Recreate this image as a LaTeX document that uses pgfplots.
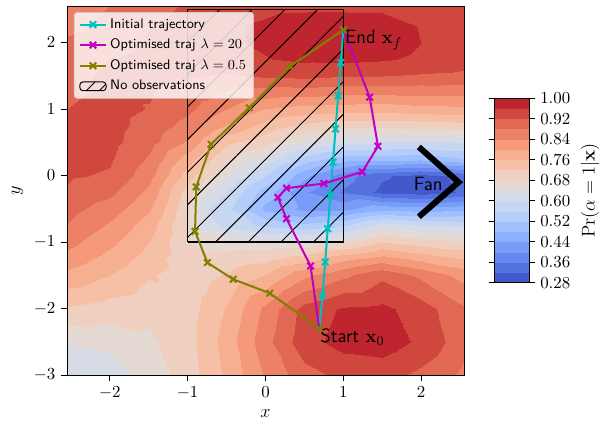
\documentclass[border=0pt]{standalone}
\usepackage{pgfplots}
\pgfplotsset{compat=1.18}
\usepackage{pgfplotstable}
\usetikzlibrary{patterns.meta}

\definecolor{mplc}{rgb}{0,0.75,0.75}
\definecolor{mplm}{rgb}{0.75,0,0.75}
\definecolor{mplolive}{rgb}{0.5,0.5,0}

\pgfplotstableread{
x y z
-2.55 -3 0.595
-2 -3 0.62
-1.5 -3 0.655
-1 -3 0.70
-0.75 -3 0.735
-0.5 -3 0.77
0 -3 0.845
0.5 -3 0.905
1 -3 0.93
1.5 -3 0.935
2 -3 0.91
2.55 -3 0.87
-2.55 -2.5 0.643
-2 -2.5 0.65
-1.5 -2.5 0.672
-1 -2.5 0.705
-0.75 -2.5 0.74
-0.5 -2.5 0.78
0 -2.5 0.865
0.5 -2.5 0.945
1 -2.5 0.975
1.5 -2.5 0.982
2 -2.5 0.952
2.55 -2.5 0.895
-2.55 -2 0.715
-2 -2 0.70
-1.5 -2 0.69
-1 -2 0.705
-0.75 -2 0.73
-0.5 -2 0.765
0 -2 0.85
0.5 -2 0.935
1 -2 0.965
1.5 -2 0.97
2 -2 0.94
2.55 -2 0.885
-2.55 -1.5 0.79
-2 -1.5 0.76
-1.5 -1.5 0.725
-1 -1.5 0.70
-0.75 -1.5 0.71
-0.5 -1.5 0.725
0 -1.5 0.76
0.5 -1.5 0.83
1 -1.5 0.87
1.5 -1.5 0.91
2 -1.5 0.87
2.55 -1.5 0.825
-2.55 -1.25 0.822
-2 -1.25 0.785
-1.5 -1.25 0.742
-1 -1.25 0.69
-0.75 -1.25 0.69
-0.5 -1.25 0.695
0 -1.25 0.71
0.5 -1.25 0.74
1 -1.25 0.79
1.5 -1.25 0.82
2 -1.25 0.79
2.55 -1.25 0.76
-2.55 -1 0.855
-2 -1 0.81
-1.5 -1 0.76
-1 -1 0.68
-0.75 -1 0.665
-0.5 -1 0.66
0 -1 0.65
0.5 -1 0.65
1 -1 0.67
1.5 -1 0.72
2 -1 0.70
2.55 -1 0.685
-2.55 -0.75 0.878
-2 -0.75 0.835
-1.5 -0.75 0.78
-1 -0.75 0.675
-0.75 -0.75 0.615
-0.5 -0.75 0.585
0 -0.75 0.55
0.5 -0.75 0.53
1 -0.75 0.55
1.5 -0.75 0.62
2 -0.75 0.60
2.55 -0.75 0.59
-2.55 -0.5 0.895
-2 -0.5 0.86
-1.5 -0.5 0.805
-1 -0.5 0.685
-0.75 -0.5 0.60
-0.5 -0.5 0.57
0 -0.5 0.47
0.5 -0.5 0.43
1 -0.5 0.43
1.5 -0.5 0.47
2 -0.5 0.46
2.55 -0.5 0.47
-2.55 -0.25 0.915
-2 -0.25 0.89
-1.5 -0.25 0.83
-1 -0.25 0.70
-0.75 -0.25 0.635
-0.5 -0.25 0.60
0 -0.25 0.50
0.5 -0.25 0.405
1 -0.25 0.355
1.5 -0.25 0.31
2 -0.25 0.30
2.55 -0.25 0.325
-2.55 0 0.925
-2 0 0.915
-1.5 0 0.855
-1 0 0.74
-0.75 0 0.685
-0.5 0 0.64
0 0 0.56
0.5 0 0.45
1 0 0.38
1.5 0 0.325
2 0 0.305
2.55 0 0.33
-2.55 0.25 0.935
-2 0.25 0.925
-1.5 0.25 0.875
-1 0.25 0.78
-0.75 0.25 0.73
-0.5 0.25 0.68
0 0.25 0.63
0.5 0.25 0.545
1 0.25 0.50
1.5 0.25 0.50
2 0.25 0.49
2.55 0.25 0.515
-2.55 0.5 0.935
-2 0.5 0.932
-1.5 0.5 0.895
-1 0.5 0.835
-0.75 0.5 0.78
-0.5 0.5 0.73
0 0.5 0.695
0.5 0.5 0.64
1 0.5 0.61
1.5 0.5 0.605
2 0.5 0.60
2.55 0.5 0.605
-2.55 0.75 0.93
-2 0.75 0.934
-1.5 0.75 0.905
-1 0.75 0.865
-0.75 0.75 0.83
-0.5 0.75 0.795
0 0.75 0.745
0.5 0.75 0.71
1 0.75 0.69
1.5 0.75 0.69
2 0.75 0.695
2.55 0.75 0.70
-2.55 1 0.92
-2 1 0.935
-1.5 1 0.918
-1 1 0.89
-0.75 1 0.865
-0.5 1 0.84
0 1 0.80
0.5 1 0.785
1 1 0.78
1.5 1 0.775
2 1 0.785
2.55 1 0.79
-2.55 1.5 0.905
-2 1.5 0.93
-1.5 1.5 0.93
-1 1.5 0.925
-0.75 1.5 0.92
-0.5 1.5 0.915
0 1.5 0.925
0.5 1.5 0.93
1 1.5 0.922
1.5 1.5 0.92
2 1.5 0.915
2.55 1.5 0.91
-2.55 1.75 0.895
-2 1.75 0.92
-1.5 1.75 0.93
-1 1.75 0.935
-0.75 1.75 0.94
-0.5 1.75 0.945
0 1.75 0.958
0.5 1.75 0.968
1 1.75 0.97
1.5 1.75 0.965
2 1.75 0.952
2.55 1.75 0.94
-2.55 2 0.885
-2 2 0.905
-1.5 2 0.925
-1 2 0.94
-0.75 2 0.948
-0.5 2 0.955
0 2 0.966
0.5 2 0.982
1 2 0.987
1.5 2 0.98
2 2 0.96
2.55 2 0.948
-2.55 2.25 0.87
-2 2.25 0.895
-1.5 2.25 0.918
-1 2.25 0.935
-0.75 2.25 0.945
-0.5 2.25 0.954
0 2.25 0.966
0.5 2.25 0.978
1 2.25 0.98
1.5 2.25 0.975
2 2.25 0.958
2.55 2.25 0.945
-2.55 2.55 0.85
-2 2.55 0.88
-1.5 2.55 0.905
-1 2.55 0.925
-0.75 2.55 0.933
-0.5 2.55 0.94
0 2.55 0.95
0.5 2.55 0.952
1 2.55 0.952
1.5 2.55 0.952
2 2.55 0.945
2.55 2.55 0.937
}\fielddata

\begin{document}
\begin{tikzpicture}
\begin{axis}[
  width=258.05pt, height=239.85pt, scale only axis,
  xmin=-2.55, xmax=2.55, ymin=-3, ymax=2.55,
  enlargelimits=false,
  xtick={-2,-1,0,1,2}, ytick={-3,-2,-1,0,1,2},
  tick align=outside, tick pos=left,
  major tick length=4pt,
  tick style={black, line width=0.6pt},
  axis line style={line width=0.6pt},
  xlabel={$x$}, ylabel={$y$},
  ticklabel style={font=\fontsize{10.5}{12}\selectfont},
  label style={font=\fontsize{13}{15}\selectfont},
  axis on top,
  colormap={cw}{rgb255=(67,88,203) rgb255=(84,113,222) rgb255=(103,136,238) rgb255=(121,156,248) rgb255=(141,176,254) rgb255=(161,192,255) rgb255=(180,205,251) rgb255=(199,215,241) rgb255=(214,219,229) rgb255=(228,217,211) rgb255=(239,207,191) rgb255=(246,192,167) rgb255=(247,175,146) rgb255=(244,154,123) rgb255=(237,129,101) rgb255=(225,104,83) rgb255=(208,71,61) rgb255=(191,37,47)},
  colormap access=piecewise constant,
  point meta min=0.28, point meta max=1.0,
  colorbar,
  colorbar style={
    at={(parent axis.east)}, anchor=west, xshift=11pt,
    width=23pt, height=120pt,
    ytick={0.28,0.36,0.44,0.52,0.60,0.68,0.76,0.84,0.92,1.00},
    yticklabel style={/pgf/number format/fixed, /pgf/number format/fixed zerofill, /pgf/number format/precision=2, font=\fontsize{11}{13}\selectfont},
    ylabel={$\mathrm{Pr}(\alpha=1|\mathbf{x})$},
    ylabel style={font=\fontsize{12}{14}\selectfont},
    tick align=outside, major tick length=3.5pt,
    tick style={black, line width=0.6pt},
    axis line style={line width=0.6pt},
  },
  legend style={at={(0,1)}, anchor=north west, xshift=4.5pt, yshift=-4pt,
    font=\fontsize{9}{10.5}\selectfont\sffamily, draw=black!20, fill=white,
    fill opacity=0.8, text opacity=1, draw opacity=1, rounded corners=2pt,
    row sep=1.5pt},
  legend cell align=left,
]
\addplot[surf, shader=interp, mesh/cols=12, point meta=explicit, forget plot] table[x=x, y=y, meta=z] {\fielddata};

\addplot[forget plot, draw=black, line width=0.7pt, pattern={Lines[angle=45,distance=15pt,line width=0.6pt]}, pattern color=black] coordinates {(-1,-1) (1,-1) (1,2.5) (-1,2.5) (-1,-1)};

\addplot[mplc, line width=1.3pt, mark=x, mark size=3pt] coordinates {(0.69,-2.3) (0.733,-1.8) (0.767,-1.3) (0.8,-0.8) (0.833,-0.3) (0.867,0.2) (0.9,0.7) (0.933,1.2) (0.967,1.7) (1.0,2.19)};
\addlegendentry{Initial trajectory}
\addplot[mplm, line width=1.3pt, mark=x, mark size=3pt] coordinates {(0.69,-2.3) (0.579,-1.36) (0.27,-0.65) (0.159,-0.33) (0.27,-0.19) (0.75,-0.12) (1.243,0.055) (1.445,0.44) (1.338,1.18) (1.0,2.19)};
\addlegendentry{Optimised traj $\lambda = 20$}
\addplot[mplolive, line width=1.3pt, mark=x, mark size=3pt] coordinates {(0.69,-2.3) (0.056,-1.77) (-0.416,-1.56) (-0.746,-1.31) (-0.905,-0.84) (-0.89,-0.17) (-0.70,0.47) (-0.21,1.02) (0.313,1.64) (1.0,2.19)};
\addlegendentry{Optimised traj $\lambda = 0.5$}
\addlegendimage{area legend, draw=black, line width=0.6pt, pattern={Lines[angle=45,distance=6pt,line width=0.5pt]}, pattern color=black}
\addlegendentry{No observations}

\addplot[black, line width=3.9pt, line join=miter, forget plot] coordinates {(1.97,0.43) (2.48,-0.1) (1.97,-0.62)};

\node[anchor=base west, inner sep=0pt, font=\fontsize{12.5}{14}\selectfont\sffamily] at (axis cs:1.02,1.98) {End $\mathbf{x}_f$};
\node[anchor=base west, inner sep=0pt, font=\fontsize{12.5}{14}\selectfont\sffamily] at (axis cs:0.70,-2.51) {Start $\mathbf{x}_0$};
\node[anchor=center, inner sep=0pt, font=\fontsize{12.5}{14}\selectfont\sffamily] at (axis cs:2.09,-0.125) {Fan};

\coordinate (SW) at (rel axis cs:0,0);
\end{axis}
\pgfresetboundingbox
\path[use as bounding box] ([shift={(-43.55pt,-32.5pt)}]SW) rectangle ([shift={(349.05pt,243.75pt)}]SW);
\end{tikzpicture}
\end{document}
